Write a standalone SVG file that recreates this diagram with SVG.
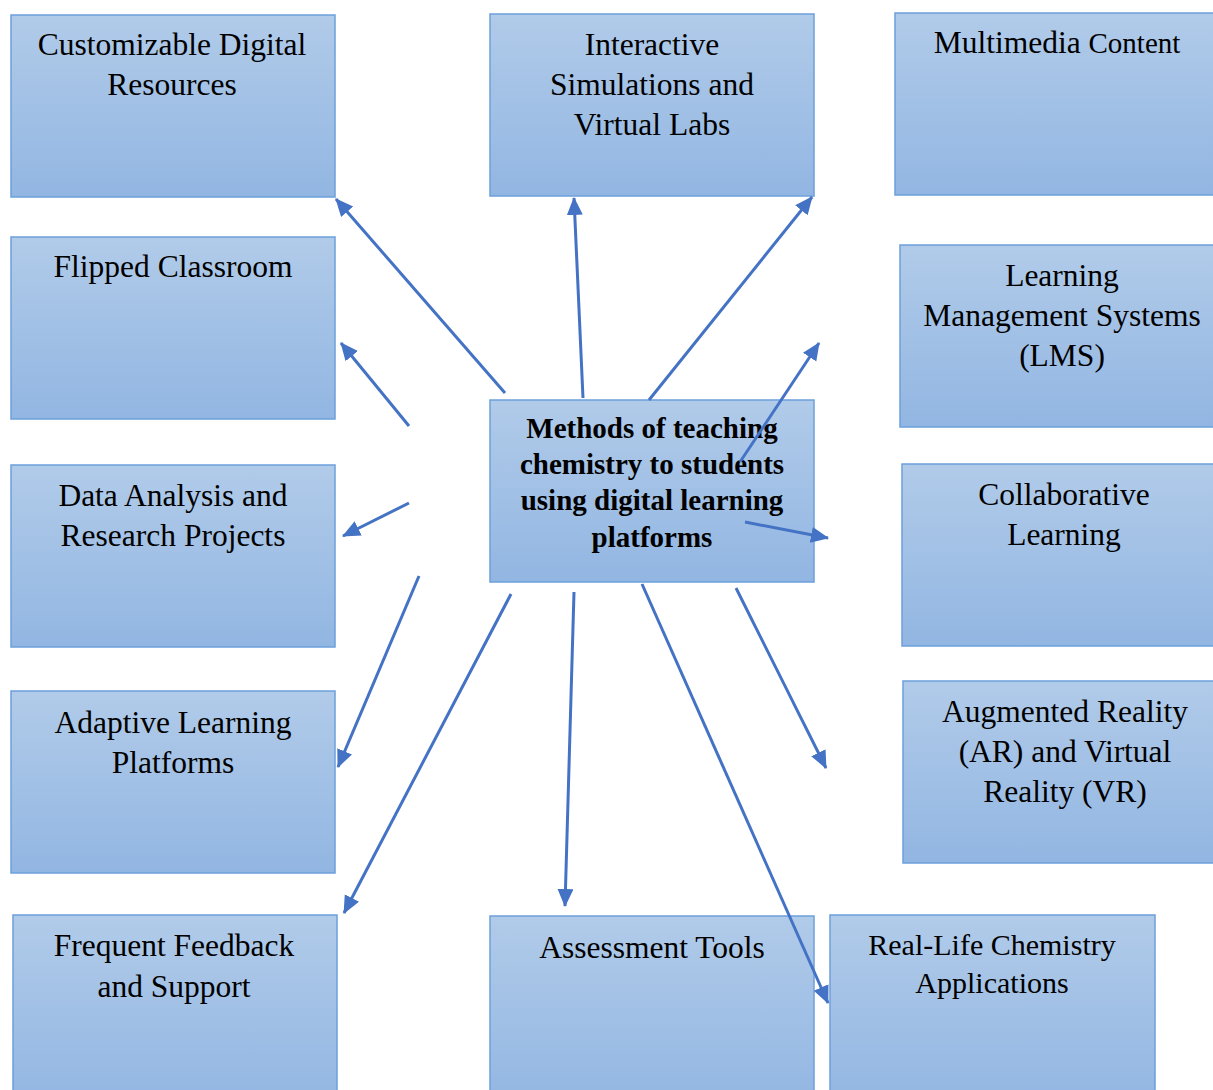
<svg xmlns="http://www.w3.org/2000/svg" width="1213" height="1090" viewBox="0 0 1213 1090">
  <style>
    .box { fill: url(#boxFill); stroke: #6CA0DC; stroke-width: 1.5; }
    .lbl { font-family: "Liberation Serif", "Times New Roman", serif; font-size: 31.5px; fill: #000; text-anchor: middle; }
    .lbl.small { font-size: 30px; }
    .title { font-family: "Liberation Serif", "Times New Roman", serif; font-size: 29px; font-weight: bold; fill: #000; text-anchor: middle; }
    .conn line { stroke: #4472C4; stroke-width: 3; marker-end: url(#head); }
  </style>
  <defs>
    <linearGradient id="boxFill" x1="0" y1="0" x2="0" y2="1">
      <stop offset="0" stop-color="#B1CBE9"/>
      <stop offset="1" stop-color="#92B6E2"/>
    </linearGradient>
    <marker id="head" markerUnits="userSpaceOnUse" markerWidth="20" markerHeight="18" refX="17" refY="8" orient="auto">
      <path d="M0,0 L18,8 L0,16 Z" fill="#4472C4"/>
    </marker>
  </defs>

  <g id="customizable">
    <rect class="box" x="11" y="15" width="324" height="182"/>
    <text class="lbl" x="172" y="55">Customizable Digital</text>
    <text class="lbl" x="172" y="95">Resources</text>
  </g>
  <g id="simulations">
    <rect class="box" x="490" y="14" width="324" height="182"/>
    <text class="lbl" x="652" y="55">Interactive</text>
    <text class="lbl" x="652" y="95">Simulations and</text>
    <text class="lbl" x="652" y="135">Virtual Labs</text>
  </g>
  <g id="multimedia">
    <rect class="box" x="895" y="13" width="330" height="182"/>
    <text class="lbl" x="1057" y="53">Multimedia <tspan font-size="29px">Content</tspan></text>
  </g>
  <g id="flipped">
    <rect class="box" x="11" y="237" width="324" height="182"/>
    <text class="lbl" x="173" y="277">Flipped Classroom</text>
  </g>
  <g id="lms">
    <rect class="box" x="900" y="245" width="325" height="182"/>
    <text class="lbl" x="1062" y="286">Learning</text>
    <text class="lbl" x="1062" y="326">Management Systems</text>
    <text class="lbl" x="1062" y="366">(LMS)</text>
  </g>
  <g id="center">
    <rect class="box" x="490" y="400" width="324" height="182"/>
    <text class="title" x="652" y="438">Methods of teaching</text>
    <text class="title" x="652" y="474">chemistry to students</text>
    <text class="title" x="652" y="510">using digital learning</text>
    <text class="title" x="652" y="547">platforms</text>
  </g>
  <g id="data-analysis">
    <rect class="box" x="11" y="465" width="324" height="182"/>
    <text class="lbl" x="173" y="506">Data Analysis and</text>
    <text class="lbl" x="173" y="546">Research Projects</text>
  </g>
  <g id="collaborative">
    <rect class="box" x="902" y="464" width="323" height="182"/>
    <text class="lbl" x="1064" y="505">Collaborative</text>
    <text class="lbl" x="1064" y="545">Learning</text>
  </g>
  <g id="adaptive">
    <rect class="box" x="11" y="691" width="324" height="182"/>
    <text class="lbl" x="173" y="733">Adaptive Learning</text>
    <text class="lbl" x="173" y="773">Platforms</text>
  </g>
  <g id="ar-vr">
    <rect class="box" x="903" y="681" width="322" height="182"/>
    <text class="lbl" x="1065" y="722">Augmented Reality</text>
    <text class="lbl" x="1065" y="762">(AR) and Virtual</text>
    <text class="lbl" x="1065" y="802">Reality (VR)</text>
  </g>
  <g id="feedback">
    <rect class="box" x="13" y="915" width="324" height="190"/>
    <text class="lbl" x="174" y="956">Frequent Feedback</text>
    <text class="lbl" x="174" y="997">and Support</text>
  </g>
  <g id="assessment">
    <rect class="box" x="490" y="916" width="324" height="190"/>
    <text class="lbl" x="652" y="958">Assessment Tools</text>
  </g>
  <g id="real-life">
    <rect class="box" x="830" y="915" width="325" height="190"/>
    <text class="lbl small" x="992" y="955">Real-Life Chemistry</text>
    <text class="lbl small" x="992" y="993">Applications</text>
  </g>

  <g id="connectors" class="conn">
    <line x1="505" y1="393" x2="336" y2="199"/>
    <line x1="583" y1="398" x2="574" y2="198"/>
    <line x1="649" y1="400" x2="812" y2="197"/>
    <line x1="409" y1="426" x2="341" y2="343"/>
    <line x1="740" y1="462" x2="819" y2="343"/>
    <line x1="409" y1="503" x2="343" y2="536"/>
    <line x1="745" y1="522" x2="828" y2="538"/>
    <line x1="419" y1="576" x2="338" y2="767"/>
    <line x1="511" y1="594" x2="344" y2="913"/>
    <line x1="574" y1="592" x2="565" y2="906"/>
    <line x1="642" y1="584" x2="828" y2="1003"/>
    <line x1="736" y1="588" x2="826" y2="768"/>
  </g>
</svg>
